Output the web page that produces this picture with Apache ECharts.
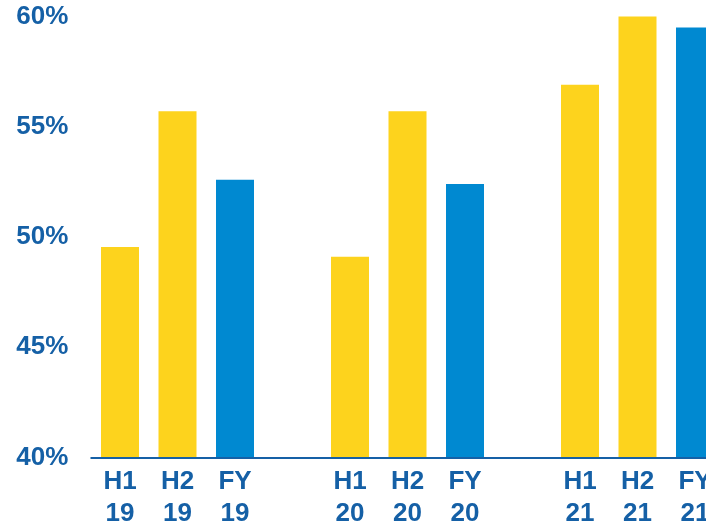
<!DOCTYPE html>
<html>
<head>
<meta charset="utf-8">
<script src="https://cdn.jsdelivr.net/npm/echarts@6/dist/echarts.min.js"></script>
<style>html,body{margin:0;padding:0;background:#fff;}#chart{width:706px;height:525px;}</style>
</head>
<body>
<div id="chart"></div>
<script>
const categories = ['H1\n19', 'H2\n19', 'FY\n19', '', 'H1\n20', 'H2\n20', 'FY\n20', '', 'H1\n21', 'H2\n21', 'FY\n21'];
const values = [49.55, 55.7, 52.6, null, 49.1, 55.7, 52.4, null, 56.9, 60.1, 59.5];
const periodType = ['H', 'H', 'FY', '', 'H', 'H', 'FY', '', 'H', 'H', 'FY'];
const yTicks = [40, 45, 50, 55, 60];

const YELLOW = '#fdd31d';
const BLUE = '#0089d1';
const TEXT = '#1560a6';

const chart = echarts.init(document.getElementById('chart'), null, {renderer: 'canvas'});
const seriesData = values.map((v, i) => ({
  value: v === null ? '-' : v,
  itemStyle: {color: periodType[i] === 'FY' ? BLUE : YELLOW}
}));
chart.setOption({
  animation: false,
  backgroundColor: '#fff',
  grid: {left: 91.25, right: -17.75, top: 16.5, bottom: 67.5, containLabel: false, outerBoundsMode: 'none'},
  xAxis: {
    type: 'category',
    data: categories,
    z: 5,
    axisLine: {show: true, lineStyle: {color: TEXT, width: 2}},
    axisTick: {show: false},
    axisLabel: {
      interval: 0,
      margin: 8,
      color: TEXT,
      fontFamily: 'Liberation Sans, Arial, sans-serif',
      fontWeight: 'bold',
      fontSize: 26,
      lineHeight: 32
    }
  },
  yAxis: {
    type: 'value',
    min: yTicks[0],
    max: yTicks[yTicks.length - 1],
    interval: yTicks[1] - yTicks[0],
    axisLine: {show: false},
    axisTick: {show: false},
    splitLine: {show: false},
    axisLabel: {
      margin: 23,
      color: TEXT,
      fontFamily: 'Liberation Sans, Arial, sans-serif',
      fontWeight: 'bold',
      fontSize: 26,
      formatter: v => v + '%'
    }
  },
  series: [{
    type: 'bar',
    data: seriesData,
    barWidth: 38,
    clip: true
  }]
});
</script>
</body>
</html>
